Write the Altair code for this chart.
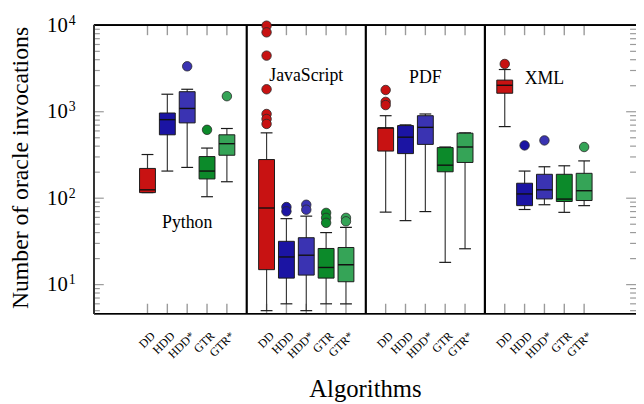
import altair as alt
import pandas as pd

datasets = ["Python", "JavaScript", "PDF", "XML"]
algorithms = ["DD", "HDD", "HDD*", "GTR", "GTR*"]
colors = ["#c81212", "#1b14a3", "#3a33b2", "#0c8a2a", "#35a457"]

# rows: datasets, columns: algorithms
lower_whisker = [
    [116, 206, 227, 104, 155],
    [5.0, 6.0, 5.0, 6.0, 6.0],
    [69, 55, 70, 18.1, 26],
    [673, 74, 84, 68.6, 82],
]
q1 = [
    [116, 541, 743, 167, 314],
    [14.9, 11.9, 12.9, 11.9, 10.8],
    [351, 328, 419, 202, 259],
    [1637, 82, 98, 91.6, 94],
]
median = [
    [125, 810, 1092, 206, 427],
    [77, 20.9, 21.9, 15.8, 17.0],
    [650, 508, 660, 241, 391],
    [2024, 112, 125, 97.7, 122],
]
q3 = [
    [221, 967, 1706, 303, 541],
    [280, 31.7, 34.9, 26.2, 26.9],
    [650, 692, 900, 385, 565],
    [2323, 149, 189, 189, 194],
]
upper_whisker = [
    [320, 1595, 1820, 380, 640],
    [570, 58, 62, 40, 46],
    [900, 705, 942, 391, 570],
    [3080, 206, 231, 237, 270],
]
outliers = [
    [[], [], [3355], [618], [1513]],
    [[9900, 8290, 4460, 1820, 942, 825, 723], [79, 70.5], [84, 73.6],
     [67.6, 59.2, 51.9], [59.2, 54]],
    [[1785, 1300, 1195], [], [], [], []],
    [[3570], [408], [466], [], [391]],
]
# annotation label heights (data units on the log axis)
group_label_y = [52, 2580, 2450, 2420]
y_major = [10, 100, 1000, 10000]

rows, orows = [], []
for gi, ds in enumerate(datasets):
    for ai, alg in enumerate(algorithms):
        pos = gi * 6 + ai + 1
        rows.append(dict(dataset=ds, algorithm=alg, pos=pos,
                         lw=lower_whisker[gi][ai], q1=q1[gi][ai], med=median[gi][ai],
                         q3=q3[gi][ai], uw=upper_whisker[gi][ai]))
        for v in outliers[gi][ai]:
            orows.append(dict(dataset=ds, algorithm=alg, pos=pos, value=v))
box_df = pd.DataFrame(rows)
out_df = pd.DataFrame(orows)
sep_df = pd.DataFrame({"sep": [6 * (i + 1) for i in range(len(datasets) - 1)]})
lab_df = pd.DataFrame({"label": datasets,
                       "gx": [gi * 6 + 3 for gi in range(len(datasets))],
                       "gy": group_label_y})
y_minor = [m * 10 ** e for e in range(0, 4) for m in range(2, 10) if 4.62 <= m * 10 ** e <= 10000]
major_df = pd.DataFrame({"v": y_major})
minor_df = pd.DataFrame({"v": y_minor})

W, H = 549, 292
xscale = alt.Scale(domain=[-1.7, -1.7 + W / 20.1], nice=False, zero=False)
yscale = alt.Scale(type="log", domain=[4.62, 10000], nice=False)

alg_arr = "[" + ",".join("'" + a + "'" for a in algorithms) + "]"
xaxis = alt.Axis(values=list(box_df["pos"]), labelExpr=alg_arr + "[(datum.value - 1) % 6]",
                 labelAngle=315, labelAlign="right", labelBaseline="middle",
                 labelPadding=20, labelOffset=5, labelFontSize=12, labelFlush=False,
                 labelColor="black", labelOverlap=False,
                 ticks=False, tickSize=0, domain=False, grid=False,
                 title="Algorithms", titleFontSize=25, titleFontWeight="normal",
                 titleColor="black", titleY=84, titleBaseline="alphabetic")
yaxis_base = alt.Axis(values=y_major, labelExpr="'10'", labelFontSize=21, labelPadding=27,
                      labelColor="black", labelFlush=False, labelOverlap=False,
                      ticks=False, tickSize=0, domain=False, grid=False, orient="left",
                      title="Number of oracle invocations", titleFontSize=24,
                      titleFontWeight="normal", titleColor="black", titleAngle=270,
                      titleX=-67, titleY=144, titleAlign="center", titleBaseline="alphabetic")
yaxis_exp = alt.Axis(values=y_major, labelExpr="'' + round(log(datum.value) / LN10)",
                     labelFontSize=14, labelPadding=26, labelAlign="left", labelOffset=-5,
                     labelColor="black", labelFlush=False, labelOverlap=False,
                     ticks=False, tickSize=0, domain=False, grid=False, orient="left", title=None)

color = alt.Color("algorithm:N", scale=alt.Scale(domain=algorithms, range=colors), legend=None)
X = lambda f: alt.X(f, scale=xscale, axis=xaxis)
Y = lambda f, ax=None: alt.Y(f, scale=yscale, axis=ax)

base = alt.Chart(box_df)

whisker = base.mark_rule(color="#3a3a3a", strokeWidth=1.2).encode(
    x=X("pos:Q"), y=Y("lw:Q", yaxis_base), y2="uw:Q")
cap_lo = base.mark_tick(orient="horizontal", size=12, thickness=1.2, color="#1a1a1a", opacity=1).encode(
    x=X("pos:Q"), y=Y("lw:Q", yaxis_exp))
cap_hi = base.mark_tick(orient="horizontal", size=12, thickness=1.2, color="#1a1a1a", opacity=1).encode(
    x=X("pos:Q"), y=Y("uw:Q"))
box = base.transform_calculate(x1="datum.pos - 0.4", x2="datum.pos + 0.4").mark_rect(
    stroke="#1a1a1a", strokeWidth=1, opacity=1).encode(
    x=X("x1:Q"), x2="x2:Q", y=Y("q1:Q"), y2="q3:Q", color=color)
med = base.mark_tick(orient="horizontal", size=16, thickness=1.4, color="#111111", opacity=1).encode(
    x=X("pos:Q"), y=Y("med:Q"))
pts = alt.Chart(out_df).mark_circle(size=92, stroke="#2a2a2a", strokeWidth=0.8, opacity=1).encode(
    x=X("pos:Q"), y=Y("value:Q"), color=color)
seps = alt.Chart(sep_df).mark_rule(color="black", strokeWidth=2.2).encode(
    x=X("sep:Q"), y=alt.value(0), y2=alt.value(H))
labels = alt.Chart(lab_df).mark_text(font="Liberation Serif", fontSize=18, color="black",
                                     align="center", baseline="middle").encode(
    x=X("gx:Q"), y=Y("gy:Q"), text="label:N")

tick_col = "#9a9a9a"
xt_top = base.mark_rule(color=tick_col, strokeWidth=1.4).encode(x=X("pos:Q"), y=alt.value(0), y2=alt.value(10))
xt_bot = base.mark_rule(color=tick_col, strokeWidth=1.4).encode(x=X("pos:Q"), y=alt.value(H - 10), y2=alt.value(H))
yl_maj = alt.Chart(major_df).mark_rule(color=tick_col, strokeWidth=1.2).encode(
    y=Y("v:Q"), x=alt.value(0), x2=alt.value(10))
yl_min = alt.Chart(minor_df).mark_rule(color=tick_col, strokeWidth=1.2).encode(
    y=Y("v:Q"), x=alt.value(0), x2=alt.value(6))
yr_maj = alt.Chart(major_df).mark_rule(color=tick_col, strokeWidth=1.2).encode(
    y=Y("v:Q"), x=alt.value(W - 10), x2=alt.value(W))
yr_min = alt.Chart(minor_df).mark_rule(color=tick_col, strokeWidth=1.2).encode(
    y=Y("v:Q"), x=alt.value(W - 6), x2=alt.value(W))

# plot frame: top, bottom and left edges (the right edge lies beyond the page)
frame_top = alt.Chart(major_df).mark_rule(color="black", strokeWidth=1.5).encode(
    x=alt.value(0), x2=alt.value(W), y=alt.value(0))
frame_bot = alt.Chart(major_df).mark_rule(color="black", strokeWidth=1.5).encode(
    x=alt.value(0), x2=alt.value(W), y=alt.value(H))
frame_left = alt.Chart(major_df).mark_rule(color="#333333", strokeWidth=1.5).encode(
    x=alt.value(0), y=alt.value(0), y2=alt.value(H))

chart = alt.layer(
    xt_top, xt_bot, yl_maj, yl_min, yr_maj, yr_min,
    frame_top, frame_bot, frame_left,
    seps, whisker, cap_lo, cap_hi, box, med, pts, labels
).resolve_axis(y="independent").properties(
    width=W, height=H,
    autosize=alt.AutoSizeParams(type="none"),
    padding={"left": 87, "top": 15, "right": 0, "bottom": 89},
).configure(font="Liberation Serif").configure_view(strokeWidth=0)

chart.save("out.html", embed_options={"renderer": "svg", "actions": False})
